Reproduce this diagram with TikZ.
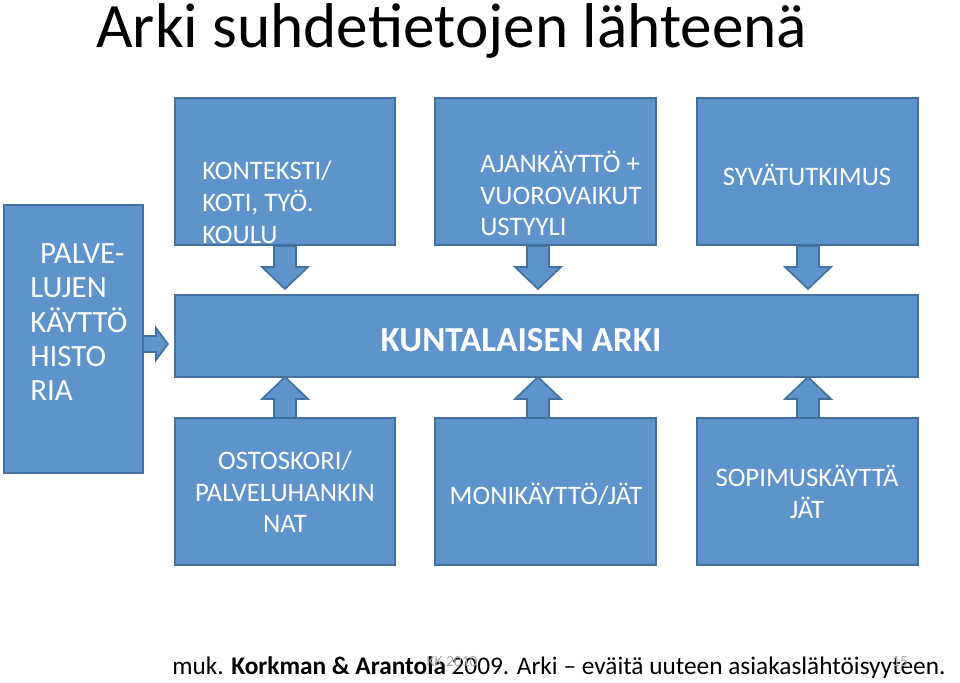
\documentclass[tikz,border=0pt]{standalone}
\usepackage{fontspec}
\setmainfont{Carlito}
\usetikzlibrary{positioning}
\definecolor{boxfill}{HTML}{5F93CB}
\definecolor{boxline}{HTML}{41719C}
\def\u{0.025cm}
\tikzset{
  box/.style={rectangle, draw=boxline, fill=boxfill, line width=1.5pt, inner sep=0pt},
  lbl/.style={text=white, font=\fontsize{19}{22}\selectfont, inner sep=0pt},
  blockarr/.style={draw=boxline, fill=boxfill, line width=1.2pt, line join=miter}
}
% vertical block arrow: x, from y, to y
\newcommand{\varrow}[3]{%
  \pgfmathsetmacro\hy{#3-((#3>#2)?22:-22)}
  \draw[blockarr] (#1-11,#2) -- (#1+11,#2) -- (#1+11,\hy) -- (#1+23,\hy) -- (#1,#3) -- (#1-23,\hy) -- (#1-11,\hy) -- cycle;}
\begin{document}
\begin{tikzpicture}[x=\u, y=-\u]
  \useasboundingbox (0,0) rectangle (960,683);
  \node[anchor=west, inner sep=0pt, font=\fontsize{45}{50}\selectfont] (title) at (96,31) {Arki suhdetietojen lähteenä};

  % boxes
  \node[box, minimum width=139*\u, minimum height=268*\u] (hist) at (73.5,339) {};
  \node[box, minimum width=220*\u, minimum height=147*\u] (ctx) at (285,171.5) {};
  \node[box, minimum width=221*\u, minimum height=147*\u] (time) at (545.5,171.5) {};
  \node[box, minimum width=221*\u, minimum height=147*\u] (deep) at (807.5,171.5) {};
  \node[box, minimum width=743*\u, minimum height=82*\u] (arki) at (546.5,336) {};
  \node[box, minimum width=220*\u, minimum height=147*\u] (shop) at (285,491.5) {};
  \node[box, minimum width=221*\u, minimum height=147*\u] (multi) at (545.5,491.5) {};
  \node[box, minimum width=221*\u, minimum height=147*\u] (cont) at (807.5,491.5) {};

  % labels
  \node[lbl, anchor=north west, align=left, font=\fontsize{22}{24.5}\selectfont] (histtxt) at (30,243) {\hspace{7pt}PALVE-\\LUJEN\\KÄYTTÖ\\HISTO\\RIA};
  \node[lbl, anchor=north west, align=left, font=\fontsize{19}{22.5}\selectfont] (ctxtxt) at (202,161) {KONTEKSTI/\\KOTI, TYÖ.\\KOULU};
  \node[lbl, anchor=north west, align=left, font=\fontsize{19}{22.5}\selectfont] (timetxt) at (480,151) {AJANKÄYTTÖ +\\VUOROVAIKUT\\USTYYLI};
  \node[lbl] (deeptxt) at (807,175) {SYVÄTUTKIMUS};
  \node[lbl, font=\bfseries\fontsize{25}{28}\selectfont] (arkitxt) at (521,340) {KUNTALAISEN ARKI};
  \node[lbl, align=center, font=\fontsize{19}{22.5}\selectfont] (shoptxt) at (285,492) {OSTOSKORI/\\PALVELUHANKIN\\NAT};
  \node[lbl] (multitxt) at (546,494) {MONIKÄYTTÖ/JÄT};
  \node[lbl, align=center, font=\fontsize{19}{22.5}\selectfont] (conttxt) at (807,492) {SOPIMUSKÄYTTÄ\\JÄT};

  % arrows
  \foreach \ax in {285,538,808} {
    \varrow{\ax}{246}{289}
    \varrow{\ax}{418}{377}
  }
  \draw[blockarr] (143,336) -- (156,336) -- (156,328) -- (168,344) -- (156,360) -- (156,352) -- (143,352) -- cycle;

  % footer
  \node[anchor=west, inner sep=0pt, font=\fontsize{18}{20}\selectfont] (src) at (172,668) {muk. \textbf{Korkman \& Arantola} 2009. Arki -- eväitä uuteen asiakaslähtöisyyteen.};
  \node[inner sep=0pt, text=gray!70, font=\fontsize{11}{12}\selectfont] (date) at (452,662) {KK 2010};
  \node[inner sep=0pt, text=gray!70, font=\fontsize{11}{12}\selectfont] (page) at (900,662) {15};
\end{tikzpicture}
\end{document}
